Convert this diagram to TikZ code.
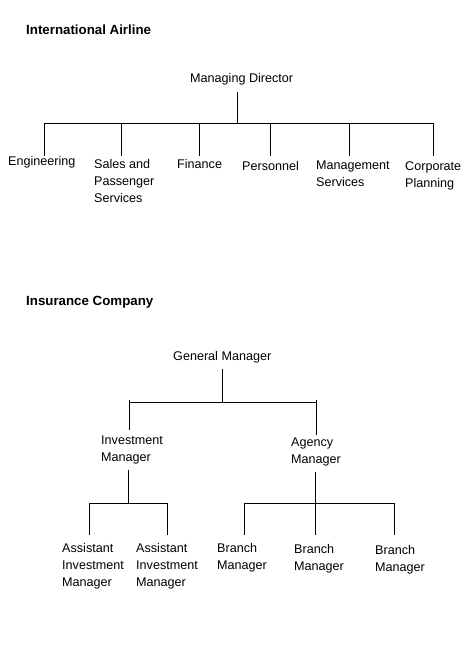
\documentclass[tikz,border=0pt]{standalone}
\usepackage{fontspec}
\setmainfont{Liberation Sans}
\begin{document}
\begin{tikzpicture}[x=1pt,y=-1pt,
  lbl/.style={inner sep=0pt,anchor=west,align=left,font=\fontsize{12.6}{17}\selectfont},
  ttl/.style={inner sep=0pt,anchor=west,font=\fontsize{13.3}{15}\selectfont\bfseries},
  ln/.style={line width=1pt}]
\useasboundingbox[fill=white] (0,0) rectangle (472,648);
% ---------- International Airline ----------
\node[ttl] (t1) at (26,30) {International Airline};
\node[lbl] (md) at (190,79) {Managing Director};
\node[lbl] (eng) at (8,162) {Engineering};
\node[lbl] (sps) at (94,181) {Sales and\\Passenger\\Services};
\node[lbl] (fin) at (177,164) {Finance};
\node[lbl] (per) at (242,166) {Personnel};
\node[lbl] (ms) at (316,173.5) {Management\\Services};
\node[lbl] (cp) at (405,175.5) {Corporate\\Planning};
\coordinate (mdt) at (237,92);
\coordinate (mdb) at (237,123);
\coordinate (b1) at (44,123);  \coordinate (e1) at (44,156);
\coordinate (b2) at (121,123); \coordinate (e2) at (121,156);
\coordinate (b3) at (199,123); \coordinate (e3) at (199,156);
\coordinate (b4) at (270,123); \coordinate (e4) at (270,156);
\coordinate (b5) at (349,123); \coordinate (e5) at (349,156);
\coordinate (b6) at (433,123); \coordinate (e6) at (433,156);
\draw[ln] (mdt) -- (mdb);
\draw[ln] (b1) -- (b6);
\foreach \i in {1,...,6} {\draw[ln] (b\i) -- (e\i);}
% ---------- Insurance Company ----------
\node[ttl] (t2) at (26,302) {Insurance Company};
\node[lbl] (gm) at (173,357) {General Manager};
\node[lbl] (im) at (101,449.5) {Investment\\Manager};
\node[lbl] (am) at (291,451.5) {Agency\\Manager};
\node[lbl] (a1) at (62,566) {Assistant\\Investment\\Manager};
\node[lbl] (a2) at (136,566) {Assistant\\Investment\\Manager};
\node[lbl] (bm1) at (217,557.5) {Branch\\Manager};
\node[lbl] (bm2) at (294,558.5) {Branch\\Manager};
\node[lbl] (bm3) at (375,559.5) {Branch\\Manager};
\coordinate (gmt) at (222,369); \coordinate (gmb) at (222,402);
\coordinate (gl) at (129,402); \coordinate (gr) at (316,402);
\coordinate (gle) at (129,430); \coordinate (gre) at (316,435);
\draw[ln] (gmt) -- (gmb);
\draw[ln] (gl) -- (gr);
\draw[ln] (gl) -- (gle);
\draw[ln] (gr) -- (gre);
\draw[ln] (gl) ++(0,-2) -- (gl);
\draw[ln] (gr) ++(0,-2) -- (gr);
% investment subtree
\coordinate (imt) at (128,470); \coordinate (imb) at (128,503);
\coordinate (il) at (89,503); \coordinate (ir) at (167,503);
\coordinate (ile) at (89,535); \coordinate (ire) at (167,535);
\draw[ln] (imt) -- (imb);
\draw[ln] (il) -- (ir);
\draw[ln] (il) -- (ile);
\draw[ln] (ir) -- (ire);
% agency subtree
\coordinate (amt) at (315,472); \coordinate (amb) at (315,535);
\coordinate (al) at (244,503); \coordinate (ar) at (394,503);
\coordinate (ale) at (244,535); \coordinate (are) at (394,535);
\draw[ln] (amt) -- (amb);
\draw[ln] (al) -- (ar);
\draw[ln] (al) -- (ale);
\draw[ln] (ar) -- (are);
\end{tikzpicture}
\end{document}
